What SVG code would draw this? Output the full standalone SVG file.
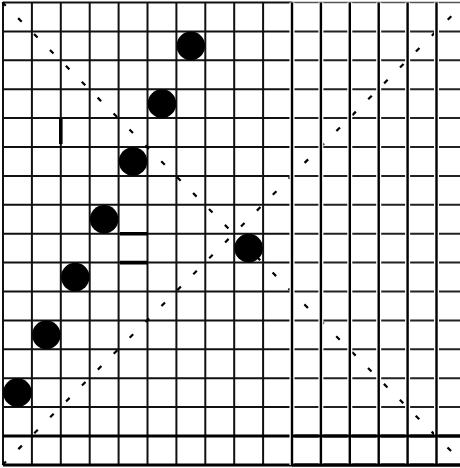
<svg xmlns="http://www.w3.org/2000/svg" width="460" height="468" viewBox="0 0 460 468">
<style>
.g{stroke:#111;stroke-width:2;fill:none}
.gr{stroke:#222;stroke-width:2;fill:none}
.halo{stroke:#fff;stroke-width:5;fill:none}
.vk{stroke:#000;stroke-width:2.4;fill:none}
.thick{stroke:#000;stroke-width:3;fill:none}
.diag{stroke:#000;stroke-width:2.2;fill:none;stroke-dasharray:5 17.49}
.q{fill:#000}
</style>
<rect width="460" height="468" fill="#fff"/>
<g id="grid-left">
<path class="g" d="M3,2.5V465 M31.9,2.5V465 M60.8,2.5V465 M89.7,2.5V465 M118.6,2.5V465 M147.5,2.5V465 M176.4,2.5V465 M205.3,2.5V465 M234.2,2.5V465 M263.1,2.5V465"/>
<path class="g" d="M3,2.5H292 M3,31.4H292 M3,60.3H292 M3,89.2H292 M3,118.1H292 M3,147H292 M3,175.9H292 M3,204.8H292 M3,233.7H292 M3,262.6H292 M3,291.5H292 M3,320.4H292 M3,349.3H292 M3,378.2H292 M3,407.1H292"/>
<path class="gr" d="M292,31.4H460 M292,60.3H460 M292,89.2H460 M292,118.1H460 M292,147H460 M292,175.9H460 M292,204.8H460 M292,233.7H460 M292,262.6H460 M292,291.5H460 M292,320.4H460 M292,349.3H460 M292,378.2H460 M292,407.1H460"/>
<path d="M292,2.5H460" stroke="#555" stroke-width="1.6" fill="none"/>
<path class="thick" d="M3,436H460 M3,464.9H460"/>
<path d="M60.8,119V144 M120,233.7H147.5 M120,262.6H147.5" stroke="#000" stroke-width="3.6" fill="none"/>
</g>
<g id="diagonals">
<line class="diag" x1="0.5" y1="0.5" x2="466" y2="466" style="stroke-dashoffset:-2.45"/>
<line class="diag" x1="467" y1="0.5" x2="0" y2="467.5" style="stroke-dashoffset:0.24"/>
</g>
<g id="grid-right">
<path class="halo" d="M292,2.5V465 M320.9,2.5V465 M349.8,2.5V465 M378.7,2.5V465 M407.6,2.5V465 M436.5,2.5V465"/>
<path class="vk" d="M292,2.5V466 M320.9,2.5V466 M349.8,2.5V466 M378.7,2.5V466 M407.6,2.5V466 M436.5,2.5V466"/>
<path class="thick" d="M292,436H460 M292,464.9H460"/>
</g>
<g id="queens">
<g id="q1"><circle class="q" cx="190.85" cy="45.85" r="14.3"/></g>
<g id="q2"><circle class="q" cx="161.95" cy="103.65" r="14.3"/></g>
<g id="q3"><circle class="q" cx="133.05" cy="161.45" r="14.3"/></g>
<g id="q4"><circle class="q" cx="104.15" cy="219.25" r="14.3"/></g>
<g id="q5"><circle class="q" cx="75.25" cy="277.05" r="14.3"/></g>
<g id="q6"><circle class="q" cx="46.35" cy="334.85" r="14.3"/></g>
<g id="q7"><circle class="q" cx="17.45" cy="392.65" r="14.3"/></g>
<g id="q8"><circle class="q" cx="248.65" cy="248.15" r="14.3"/></g>
</g>
</svg>
